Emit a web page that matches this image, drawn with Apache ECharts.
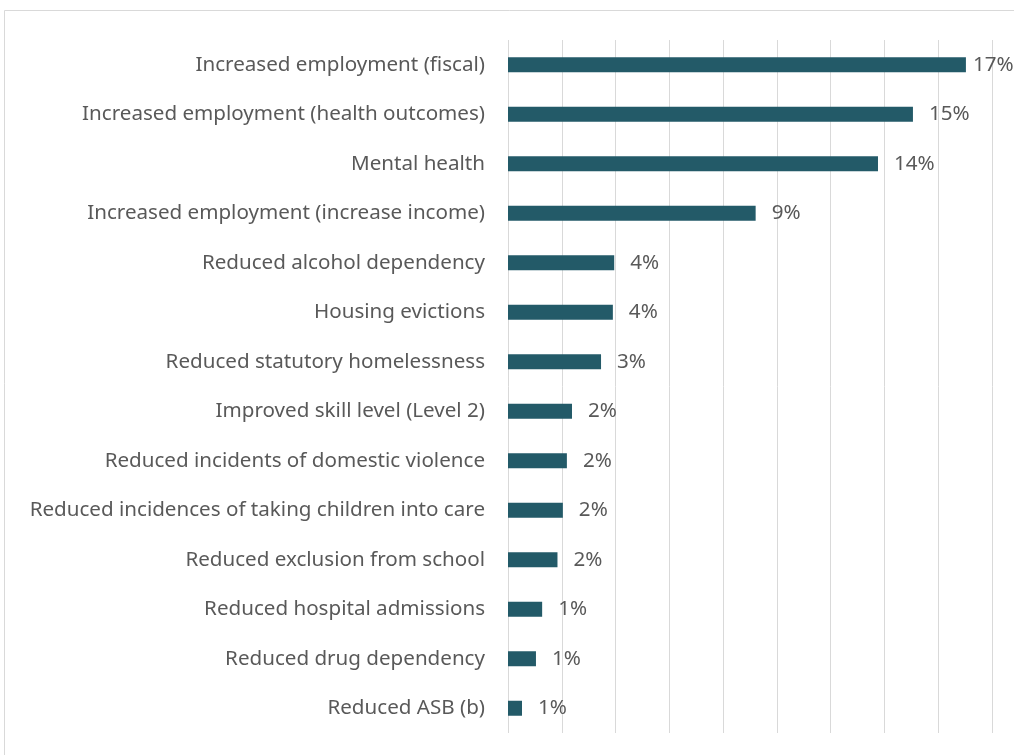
<!DOCTYPE html>
<html>
<head>
<meta charset="utf-8">
<script src="https://cdn.jsdelivr.net/npm/echarts@6/dist/echarts.min.js"></script>
<style>
html,body{margin:0;padding:0;background:#fff;}
#chart{width:1014px;height:755px;}
</style>
</head>
<body>
<div id="chart"></div>
<script>
const categories = [
  "Increased employment (fiscal)",
  "Increased employment (health outcomes)",
  "Mental health",
  "Increased employment (increase income)",
  "Reduced alcohol dependency",
  "Housing evictions",
  "Reduced statutory homelessness",
  "Improved skill level (Level 2)",
  "Reduced incidents of domestic violence",
  "Reduced incidences of taking children into care",
  "Reduced exclusion from school",
  "Reduced hospital admissions",
  "Reduced drug dependency",
  "Reduced ASB (b)"
];
const values = [17.03, 15.06, 13.76, 9.21, 3.95, 3.90, 3.46, 2.38, 2.19, 2.04, 1.84, 1.27, 1.04, 0.52];
const valueLabels = ["17%", "15%", "14%", "9%", "4%", "4%", "3%", "2%", "2%", "2%", "2%", "1%", "1%", "1%"];

const FONT = "Noto Sans";
const TXT = "#595959";
const FS = 20.6;

const chart = echarts.init(document.getElementById('chart'), null, {renderer: 'canvas'});

// reverse so first category is at the top
const cats = categories.slice().reverse();
const data = values.map((v, i) => {
  const item = {value: v, label: {formatter: valueLabels[i]}};
  if (i === 0) item.label.distance = 7;
  return item;
}).reverse();

chart.setOption({
  animation: false,
  backgroundColor: '#ffffff',
  graphic: [{
    type: 'rect',
    shape: {x: 4.5, y: 10.5, width: 1200, height: 900},
    style: {fill: 'none', stroke: '#d9d9d9', lineWidth: 1},
    silent: true, z: -1
  }],
  grid: {left: 508, right: 22, top: 40, bottom: 22, containLabel: false},
  xAxis: {
    type: 'value',
    min: 0, max: 18, interval: 2,
    axisLine: {show: false},
    axisTick: {show: false},
    axisLabel: {show: false},
    splitLine: {show: true, lineStyle: {color: '#d9d9d9', width: 1}}
  },
  yAxis: {
    type: 'category',
    data: cats,
    axisLine: {show: false},
    axisTick: {show: false},
    axisLabel: {color: TXT, fontFamily: FONT, fontSize: FS, margin: 23}
  },
  series: [{
    type: 'bar',
    data: data,
    barWidth: 15,
    itemStyle: {color: '#235a68'},
    label: {
      show: true, position: 'right', distance: 16,
      color: TXT, fontFamily: FONT, fontSize: FS
    }
  }]
});
</script>
</body>
</html>
